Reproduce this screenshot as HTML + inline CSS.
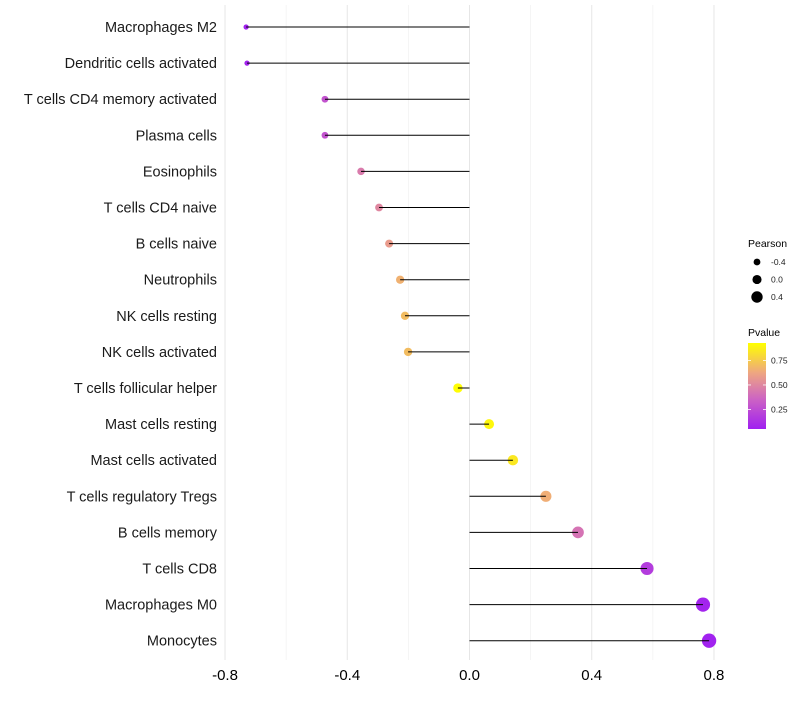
<!DOCTYPE html>
<html><head><meta charset="utf-8"><style>
body{margin:0;background:#fff;font-family:"Liberation Sans",sans-serif}
</style></head><body>
<svg id="c" width="800" height="700" xmlns="http://www.w3.org/2000/svg"></svg>
<script>
const categories=["Macrophages M2","Dendritic cells activated","T cells CD4 memory activated","Plasma cells","Eosinophils","T cells CD4 naive","B cells naive","Neutrophils","NK cells resting","NK cells activated","T cells follicular helper","Mast cells resting","Mast cells activated","T cells regulatory  Tregs ","B cells memory","T cells CD8","Macrophages M0","Monocytes"];
const pearson=[-0.731,-0.728,-0.473,-0.473,-0.355,-0.296,-0.263,-0.227,-0.211,-0.201,-0.038,0.064,0.142,0.25,0.355,0.581,0.764,0.784];
const pvalue=[0.06,0.07,0.28,0.28,0.45,0.5,0.58,0.66,0.7,0.7,0.92,0.9,0.85,0.65,0.42,0.18,0.07,0.06];
const xTicks=[-0.8,-0.4,0.0,0.4,0.8];
const xMinor=[-0.6,-0.2,0.2,0.6];
const legendPearson=[-0.4,0.0,0.4];
const legendP=[0.25,0.5,0.75];
const NS="http://www.w3.org/2000/svg";
const svg=document.getElementById('c');
const x=v=>469.5+v*305.6;
const y=i=>27+i*36.1;
const r=v=>4.8+3*v;
const pMin=0.052,pMax=0.927;
const stops=[[0,[160,32,240]],[0.35,[205,100,195]],[0.65,[238,165,130]],[1,[255,255,0]]];
function col(p){let t=Math.max(0,Math.min(1,(p-pMin)/(pMax-pMin)));for(let k=1;k<stops.length;k++){if(t<=stops[k][0]){const a=stops[k-1],b=stops[k];const f=(t-a[0])/(b[0]-a[0]);return 'rgb('+a[1].map((c,j)=>Math.round(c+(b[1][j]-c)*f)).join(',')+')';}}return 'rgb(255,255,0)';}
function el(tag,attrs,txt){const e=document.createElementNS(NS,tag);for(const k in attrs)e.setAttribute(k,attrs[k]);if(txt!==undefined)e.textContent=txt;svg.appendChild(e);return e;}
xMinor.forEach(v=>{const l=el('line',{x1:x(v),x2:x(v),y1:5,y2:660,stroke:'#f2f2f2','stroke-width':0.8});

});
xTicks.forEach(v=>{const l=el('line',{x1:x(v),x2:x(v),y1:5,y2:660,stroke:'#e6e6e6','stroke-width':1});


const t=el('text',{x:x(v),y:680,'text-anchor':'middle','font-size':15,fill:'#000'},v.toFixed(1));

});
categories.forEach((c,i)=>{
const cy=y(i);
const lab=el('text',{x:217,y:cy+5,'text-anchor':'end','font-size':14.5,fill:'#1a1a1a'},c);


const d=el('circle',{cx:x(pearson[i]),cy:cy,r:r(pearson[i]),fill:col(pvalue[i])});


const s=el('line',{x1:x(0),x2:x(pearson[i]),y1:cy,y2:cy,stroke:'#000','stroke-width':1});


});
let t=el('text',{x:748,y:247,'font-size':10.5,fill:'#000'},'Pearson');


legendPearson.forEach((v,k)=>{const cy=262+k*17.5;
const c=el('circle',{cx:757,cy:cy,r:r(v)*0.95,fill:'#000'});


const tt=el('text',{x:771,y:cy+3,'font-size':8.5,fill:'#222'},v.toFixed(1));

});
t=el('text',{x:748,y:336,'font-size':10.5,fill:'#000'},'Pvalue');


const defs=el('defs',{});
const g=document.createElementNS(NS,'linearGradient');g.setAttribute('id','gr');g.setAttribute('x1',0);g.setAttribute('y1',1);g.setAttribute('x2',0);g.setAttribute('y2',0);defs.appendChild(g);
stops.forEach(s=>{const st=document.createElementNS(NS,'stop');st.setAttribute('offset',s[0]);st.setAttribute('stop-color','rgb('+s[1].join(',')+')');g.appendChild(st);});
const bar=el('rect',{x:748,y:343,width:18,height:86,fill:'url(#gr)'});


legendP.forEach(v=>{const cy=429-(v-pMin)/(pMax-pMin)*86;
el('line',{x1:748,x2:751,y1:cy,y2:cy,stroke:'#fff','stroke-width':0.8});
el('line',{x1:763,x2:766,y1:cy,y2:cy,stroke:'#fff','stroke-width':0.8});
const tt=el('text',{x:771,y:cy+3,'font-size':8.5,fill:'#222'},v.toFixed(2));

});
</script>
</body></html>
